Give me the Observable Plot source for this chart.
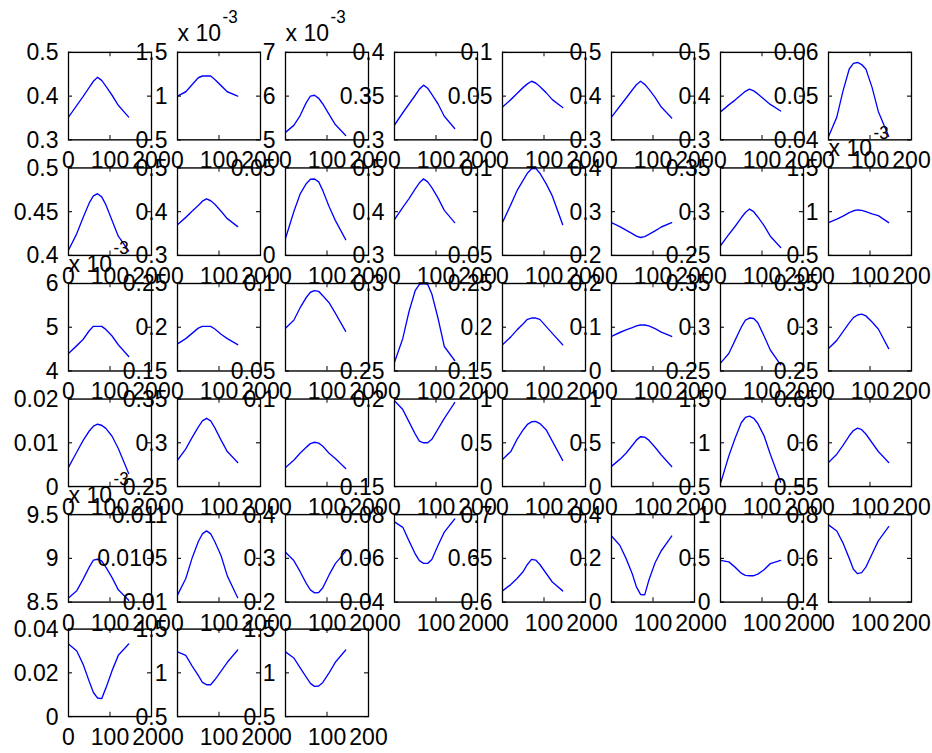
<!DOCTYPE html>
<html><head><meta charset="utf-8">
<script src="https://cdn.jsdelivr.net/npm/d3@7"></script>
<script src="https://cdn.jsdelivr.net/npm/@observablehq/plot@0.6"></script>
<style>
body{margin:0;background:#fff;}
#chart{position:relative;width:932px;height:753px;overflow:hidden;background:#fff;}
#stage{position:absolute;left:0;top:0;width:932px;transform-origin:0 0;}
#stage > div{position:absolute;}
#stage svg{overflow:visible;background:transparent !important;}
</style></head><body><div id="chart"><div id="stage"></div></div>
<script>
// shared x samples and x ticks
const xs = [0, 20, 35, 50, 60, 70, 80, 90, 105, 120, 145];
const xTicks = [0, 100, 200];

// y limits per subplot (row-major, 6 rows x 8 columns, 43 axes)
const yLo = [0.3, 0.5, 5, 0.3, 0, 0.3, 0.3, 0.04,
             0.4, 0.3, 0, 0.3, 0.05, 0.2, 0.25, 0.5,
             4, 0.15, 0.05, 0.25, 0.15, 0, 0.25, 0.25,
             0, 0.25, 0.05, 0.15, 0, 0, 0.5, 0.55,
             8.5, 0.01, 0.2, 0.04, 0.6, 0, 0, 0.4,
             0, 0.5, 0.5];
const yHi = [0.5, 1.5, 7, 0.4, 0.1, 0.5, 0.5, 0.06,
             0.5, 0.5, 0.05, 0.5, 0.1, 0.4, 0.35, 1.5,
             6, 0.25, 0.1, 0.3, 0.25, 0.2, 0.35, 0.35,
             0.02, 0.35, 0.1, 0.2, 1, 1, 1.5, 0.65,
             9.5, 0.011, 0.4, 0.08, 0.7, 0.4, 1, 0.8,
             0.04, 1.5, 1.5];
const yTicks = [
  [0.3,0.4,0.5],[0.5,1,1.5],[5,6,7],[0.3,0.35,0.4],[0,0.05,0.1],[0.3,0.4,0.5],[0.3,0.4,0.5],[0.04,0.05,0.06],
  [0.4,0.45,0.5],[0.3,0.4,0.5],[0,0.05],[0.3,0.4,0.5],[0.05,0.1],[0.2,0.3,0.4],[0.25,0.3,0.35],[0.5,1,1.5],
  [4,5,6],[0.15,0.2,0.25],[0.05,0.1],[0.25,0.3],[0.15,0.2,0.25],[0,0.1,0.2],[0.25,0.3,0.35],[0.25,0.3,0.35],
  [0,0.01,0.02],[0.25,0.3,0.35],[0.1],[0.15,0.2],[0,0.5,1],[0,0.5,1],[0.5,1,1.5],[0.55,0.6,0.65],
  [8.5,9,9.5],[0.01,0.0105,0.011],[0.2,0.3,0.4],[0.04,0.06,0.08],[0.6,0.65,0.7],[0,0.2,0.4],[0,0.5,1],[0.4,0.6,0.8],
  [0,0.02,0.04],[0.5,1,1.5],[0.5,1,1.5]
];
// 1 = axis shows the "x 10^-3" multiplier
const scaled = [0,1,1,0,0,0,0,0, 0,0,0,0,0,0,0,1, 1,0,0,0,0,0,0,0, 0,0,0,0,0,0,0,0, 1,0,0,0,0,0,0,0, 0,0,0];

// curve values per subplot (at xs)
const series = [
  [0.352,0.379,0.399,0.420,0.434,0.443,0.436,0.423,0.402,0.379,0.352],
  [1.00,1.05,1.13,1.21,1.23,1.23,1.23,1.19,1.12,1.05,1.00],
  [5.17,5.33,5.55,5.85,6.00,6.02,5.95,5.82,5.58,5.35,5.10],
  [0.317,0.331,0.341,0.351,0.358,0.3625,0.359,0.352,0.341,0.327,0.313],
  [0.0375,0.046,0.053,0.060,0.064,0.067,0.065,0.061,0.054,0.046,0.037],
  [0.352,0.377,0.395,0.414,0.426,0.434,0.427,0.416,0.397,0.375,0.350],
  [0.364,0.380,0.391,0.403,0.411,0.416,0.412,0.405,0.393,0.381,0.366],
  [0.0407,0.0452,0.0512,0.0562,0.0575,0.0577,0.0572,0.0562,0.052,0.0465,0.0408],

  [0.406,0.425,0.443,0.460,0.468,0.4705,0.467,0.458,0.440,0.422,0.405],
  [0.370,0.387,0.401,0.414,0.424,0.4295,0.425,0.417,0.401,0.384,0.366],
  [0.0097,0.025,0.035,0.041,0.0435,0.0437,0.042,0.037,0.028,0.020,0.009],
  [0.382,0.410,0.430,0.452,0.466,0.475,0.468,0.455,0.431,0.403,0.375],
  [0.0688,0.079,0.087,0.093,0.097,0.0995,0.0998,0.097,0.091,0.084,0.0676],
  [0.275,0.266,0.258,0.250,0.244,0.241,0.243,0.248,0.256,0.265,0.275],
  [0.261,0.274,0.283,0.293,0.299,0.303,0.300,0.294,0.284,0.272,0.259],
  [0.875,0.915,0.95,0.99,1.01,1.02,1.015,1.0,0.975,0.955,0.875],

  [4.40,4.58,4.72,4.92,5.02,5.02,5.02,4.95,4.80,4.60,4.33],
  [0.181,0.187,0.193,0.199,0.201,0.201,0.201,0.198,0.192,0.187,0.180],
  [0.0744,0.079,0.086,0.092,0.095,0.0959,0.0955,0.093,0.089,0.083,0.0727],
  [0.255,0.2686,0.284,0.296,0.2995,0.300,0.2995,0.294,0.280,0.264,0.256],
  [0.180,0.189,0.197,0.204,0.209,0.2105,0.2105,0.209,0.201,0.193,0.180],
  [0.079,0.088,0.094,0.099,0.103,0.105,0.105,0.103,0.097,0.089,0.079],
  [0.259,0.27,0.285,0.300,0.308,0.3105,0.310,0.305,0.290,0.274,0.257],
  [0.2756,0.285,0.295,0.305,0.311,0.314,0.315,0.313,0.306,0.298,0.2756],

  [0.0044,0.0079,0.0105,0.0127,0.0138,0.01425,0.014,0.0133,0.0115,0.0087,0.003],
  [0.28,0.293,0.306,0.318,0.325,0.328,0.325,0.317,0.303,0.290,0.2776],
  [0.0609,0.065,0.069,0.0725,0.0745,0.0753,0.0748,0.073,0.069,0.066,0.0603],
  [0.199,0.194,0.187,0.180,0.176,0.175,0.175,0.177,0.183,0.189,0.198],
  [0.31,0.40,0.54,0.65,0.71,0.74,0.745,0.72,0.65,0.52,0.30],
  [0.23,0.31,0.38,0.47,0.53,0.57,0.565,0.53,0.45,0.36,0.23],
  [0.534,0.85,1.05,1.23,1.29,1.305,1.28,1.22,1.08,0.87,0.55],
  [0.5776,0.587,0.597,0.608,0.614,0.6167,0.615,0.610,0.600,0.590,0.5776],

  [8.547,8.63,8.76,8.90,8.98,8.99,8.97,8.90,8.78,8.64,8.52],
  [0.01008,0.01027,0.01050,0.01069,0.01078,0.010814,0.01078,0.01069,0.01053,0.01030,0.01005],
  [0.314,0.295,0.27,0.243,0.228,0.221,0.222,0.233,0.262,0.288,0.316],
  [0.0767,0.0742,0.068,0.062,0.059,0.0577,0.0577,0.0595,0.066,0.072,0.078],
  [0.6128,0.62,0.627,0.635,0.643,0.6488,0.648,0.643,0.633,0.623,0.6128],
  [0.302,0.26,0.20,0.13,0.07,0.035,0.033,0.10,0.18,0.235,0.302],
  [0.477,0.46,0.40,0.33,0.305,0.302,0.302,0.32,0.37,0.44,0.477],
  [0.753,0.725,0.67,0.60,0.55,0.53,0.535,0.56,0.62,0.68,0.745],

  [0.0332,0.030,0.024,0.016,0.011,0.0085,0.0082,0.013,0.021,0.028,0.0332],
  [1.24,1.20,1.08,0.97,0.89,0.864,0.864,0.92,1.02,1.12,1.26],
  [1.24,1.17,1.06,0.95,0.88,0.845,0.85,0.89,1.00,1.12,1.26]
];

// The reference is slightly stretched vertically; lay out in unstretched
// coordinates and stretch the whole stage.
const S = 1.08;
const stage = document.getElementById("stage");
stage.style.height = (753 / S) + "px";
stage.style.transform = `scale(1, ${S})`;

const W = 83, H = Math.round(87 / S), mL = 70, mR = 45, mT = 45, mB = 40;
const FONT = "'Liberation Sans', Arial, Helvetica, sans-serif";
const FS = 23;

series.forEach((vals, i) => {
  const row = Math.floor(i / 8), col = i % 8;
  const boxLeft = Math.round(68 + col * 108.6);
  const boxTop = (52 + row * 115.4) / S;
  const data = xs.map((x, j) => ({x, v: vals[j]}));
  const marks = [
    Plot.line(data, {x: "x", y: "v", stroke: "#0000ff", strokeWidth: 1.3, clip: true}),
    Plot.frame({stroke: "#000", strokeWidth: 1.3}),
    Plot.tickX(xTicks, {x: d => d, stroke: "#000", insetTop: H - 4}),
    Plot.tickX(xTicks, {x: d => d, stroke: "#000", insetBottom: H - 4}),
    Plot.tickY(yTicks[i], {y: d => d, stroke: "#000", insetRight: W - 4}),
    Plot.tickY(yTicks[i], {y: d => d, stroke: "#000", insetLeft: W - 4}),
    Plot.axisX(xTicks, {tickSize: 0, tickPadding: 10, tickFormat: d => String(d), fontSize: FS, label: null, fill: "#000"}),
    Plot.axisY(yTicks[i], {tickSize: 0, tickPadding: 10, tickFormat: d => String(d), fontSize: FS, label: null, fill: "#000"})
  ];
  if (scaled[i]) {
    marks.push(Plot.text([0], {frameAnchor: "top-left", text: () => "x 10", textAnchor: "start", lineAnchor: "bottom", dy: -11, fontSize: FS, fill: "#000"}));
    marks.push(Plot.text([0], {frameAnchor: "top-left", text: () => "-3", textAnchor: "start", lineAnchor: "bottom", dx: 45, dy: -27, fontSize: 17, fill: "#000"}));
  }
  const svg = Plot.plot({
    width: W + mL + mR, height: H + mT + mB,
    marginLeft: mL, marginRight: mR, marginTop: mT, marginBottom: mB,
    x: {domain: [0, 200], label: null},
    y: {domain: [yLo[i], yHi[i]], label: null},
    style: {background: "transparent", overflow: "visible", fontFamily: FONT, fontSize: FS + "px", color: "#000"},
    marks
  });
  const div = document.createElement("div");
  div.style.left = (boxLeft - mL) + "px";
  div.style.top = (boxTop - mT) + "px";
  div.style.width = (W + mL + mR) + "px";
  div.appendChild(svg);
  stage.appendChild(div);
});
</script>
</body></html>
